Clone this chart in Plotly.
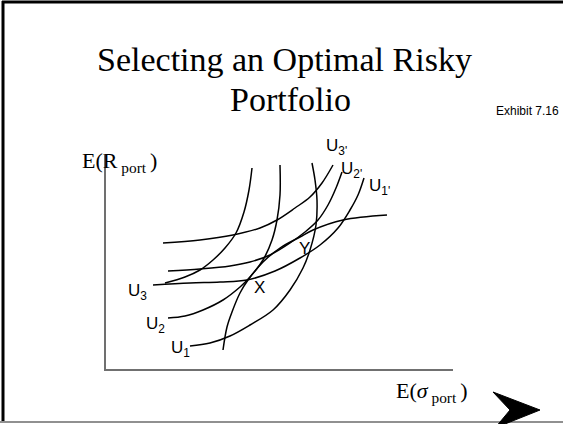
import plotly.graph_objects as go

W, H = 563, 424

# ---- data (sigma, return) ----
ef_sigma = [117, 121, 126, 134, 142, 157, 174, 194, 207, 237, 281]
ef_ret   = [19, 42, 57, 76, 89, 107, 121, 132, 139, 149, 154]

u3_sigma = [59, 79, 94, 107, 119, 130, 138, 143, 146]
u3_ret   = [86, 92, 99, 109, 121, 136, 157, 179, 201]

u2_sigma = [62, 79, 97, 117, 134, 144, 157, 166, 171, 174, 174]
u2_ret   = [51, 53, 59, 69, 82, 92, 109, 129, 149, 174, 204]

u1_sigma = [84, 104, 124, 144, 167, 184, 197, 204, 210, 211, 209, 206]
u1_ret   = [23, 26, 33, 44, 59, 79, 101, 119, 144, 169, 189, 206]

u3p_sigma = [57, 94, 127, 154, 171, 189, 204, 216, 227]
u3p_ret   = [126, 129, 134, 141, 149, 161, 172, 186, 204]

u2p_sigma = [62, 94, 124, 144, 164, 184, 199, 212, 222, 230, 236]
u2p_ret   = [98, 100, 103, 107, 114, 126, 137, 149, 164, 181, 197]

u1p_sigma = [47, 84, 114, 141, 169, 194, 214, 232, 244, 252, 258]
u1p_ret   = [84, 86, 87, 89, 98, 111, 124, 141, 159, 174, 191]

curves = [
    (ef_sigma, ef_ret), (u3_sigma, u3_ret), (u2_sigma, u2_ret), (u1_sigma, u1_ret),
    (u3p_sigma, u3p_ret), (u2p_sigma, u2p_ret), (u1p_sigma, u1p_ret),
]

# ---- layout helpers (pixel -> paper) ----
def px(x):
    return x / W

def py(y):
    return 1 - y / H

AX_L, AX_R, AX_T, AX_B = 106, 453, 155, 369

fig = go.Figure()
for xs, ys in curves:
    fig.add_trace(go.Scatter(x=xs, y=ys, mode="lines",
                             line=dict(color="black", width=1.5, shape="spline", smoothing=1.0),
                             hoverinfo="skip", showlegend=False))

fig.update_layout(
    width=W, height=H, margin=dict(l=0, r=0, t=0, b=0),
    paper_bgcolor="white", plot_bgcolor="white", showlegend=False,
    xaxis=dict(domain=[px(AX_L), px(AX_R)], range=[0, AX_R - AX_L],
               showline=True, linecolor="#707070", linewidth=2,
               showgrid=False, zeroline=False, showticklabels=False, ticks=""),
    yaxis=dict(domain=[py(AX_B), py(AX_T)], range=[0, AX_B - AX_T],
               showline=True, linecolor="#707070", linewidth=2,
               showgrid=False, zeroline=False, showticklabels=False, ticks=""),
)

serif = "Liberation Serif, Times New Roman, serif"
sans = "Liberation Sans, Arial, sans-serif"

def note(text, x, y, size, family, xanchor="center", yanchor="middle"):
    fig.add_annotation(text=text, x=px(x), y=py(y), xref="paper", yref="paper",
                       showarrow=False, xanchor=xanchor, yanchor=yanchor,
                       font=dict(family=family, size=size, color="black"))

note("Selecting an Optimal Risky", 284, 60, 34, serif)
note("Portfolio", 290, 99, 34, serif)
note("Exhibit 7.16", 527, 111, 12, sans)
note("E(R<sub> port </sub>)", 80, 162, 22, serif, xanchor="left")
note("E(<i>σ</i><sub> port </sub>)", 394, 392, 22, serif, xanchor="left")

labels = [
    ("U<sub>3</sub>", 126, 292), ("U<sub>2</sub>", 144, 325), ("U<sub>1</sub>", 169, 349),
    ("U<sub>3'</sub>", 324, 147), ("U<sub>2'</sub>", 339, 170), ("U<sub>1'</sub>", 367, 187),
]
for t, x, y in labels:
    note(t, x, y, 17, sans, xanchor="left")
note("X", 259, 287, 17, sans)
note("Y", 304, 248, 17, sans)

# slide frame
fig.add_shape(type="line", xref="paper", yref="paper", x0=px(3), x1=px(3), y0=py(1), y1=py(423),
              line=dict(color="black", width=3))
fig.add_shape(type="line", xref="paper", yref="paper", x0=px(2), x1=px(563), y0=py(2), y1=py(2),
              line=dict(color="black", width=3))
fig.add_shape(type="line", xref="paper", yref="paper", x0=px(0), x1=px(563), y0=py(422), y1=py(422),
              line=dict(color="#909090", width=2))

# navigation arrow
pts = [(493, 392), (540, 410), (495, 428), (510, 410)]
path = "M " + " L ".join(f"{px(a)},{py(b)}" for a, b in pts) + " Z"
fig.add_shape(type="path", xref="paper", yref="paper", path=path,
              fillcolor="black", line=dict(color="black", width=1))

fig.write_html("out.html", config={"displayModeBar": False},
               post_script="document.body.style.margin='0';document.body.style.overflow='hidden';")
